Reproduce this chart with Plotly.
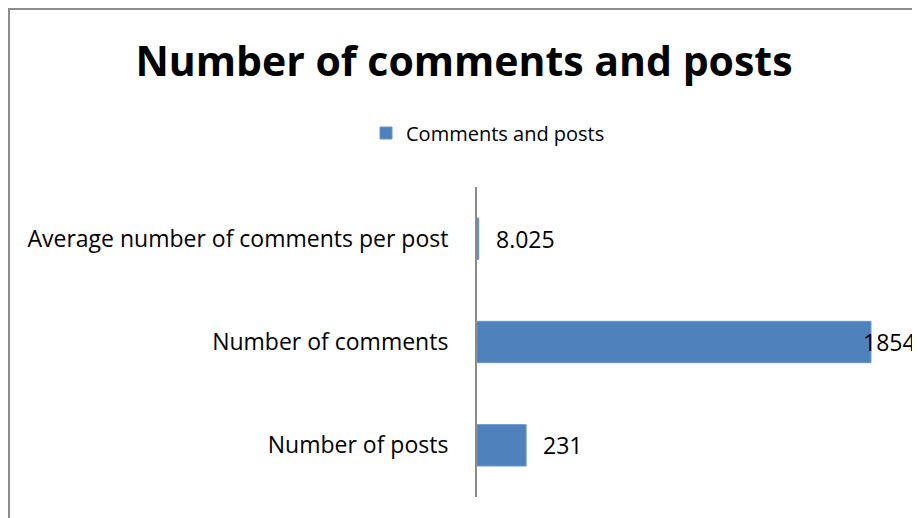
import plotly.graph_objects as go

# data
categories = ["Number of posts", "Number of comments", "Average number of comments per post"]
values = [231, 1854, 8.025]
value_labels = ["231", "1854", "8.025"]
series_name = "Comments and posts"
title_text = "Number of comments and posts"

# the page body keeps its default 8px margin, so the figure is made 8px
# smaller and everything is placed relative to that
W, H = 912, 510
m_l, m_r, m_t, m_b = 469, 18, 179, 21
x_max = 2000
font_family = "Open Sans, Lato, sans-serif"

pw = W - m_l - m_r
ph = H - m_t - m_b

fig = go.Figure()
fig.add_trace(go.Bar(
    y=categories,
    x=values,
    orientation="h",
    name=series_name,
    marker=dict(color="#4F81BD", line=dict(color="#6A95C8", width=1)),
    showlegend=True,
))

# data labels, outside end like excel; a label that would run off the chart
# is pinned to the right edge instead (excel does the same)
label_font = dict(size=23, color="#000000", family=font_family)
for cat, val, lab in zip(categories, values, value_labels):
    if val > 0.9 * x_max:
        fig.add_annotation(x=1 + (m_r - 2) / pw, xref="paper", y=cat, text=lab,
                           showarrow=False, xanchor="right", font=label_font)
    else:
        fig.add_annotation(x=val, y=cat, text=lab, showarrow=False,
                           xanchor="left", xshift=15, font=label_font)

# chart border (gray frame like the excel chart area)
fig.add_shape(type="rect", xref="paper", yref="paper",
              x0=(1 - m_l) / pw, x1=(W + 10 - m_l) / pw,
              y0=-(H + 10 - m_t - ph) / ph, y1=(m_t - 1) / ph + 1,
              line=dict(color="#8C8C8C", width=2), fillcolor="rgba(0,0,0,0)",
              layer="below")

fig.update_layout(
    width=W, height=H,
    margin=dict(l=m_l, r=m_r, t=m_t, b=m_b),
    paper_bgcolor="white",
    plot_bgcolor="white",
    bargap=0.6,
    font=dict(family=font_family, color="#000000"),
    title=dict(text="<b>" + title_text + "</b>", x=0.5, xref="container",
               xanchor="center", y=1 - 54 / H, yanchor="middle",
               font=dict(size=41, color="#000000", family=font_family)),
    legend=dict(orientation="h", x=(480 - m_l) / pw, xanchor="center",
                y=1 + (m_t - 125) / ph, yanchor="middle",
                font=dict(size=20, color="#000000"), itemwidth=30),
    xaxis=dict(range=[0, x_max], visible=False, showgrid=False, zeroline=False),
    yaxis=dict(showline=True, linecolor="#8C8C8C", linewidth=2,
               ticks="", showgrid=False, ticklabelstandoff=22,
               tickfont=dict(size=23, color="#000000", family=font_family)),
)

fig.write_html("out.html")
